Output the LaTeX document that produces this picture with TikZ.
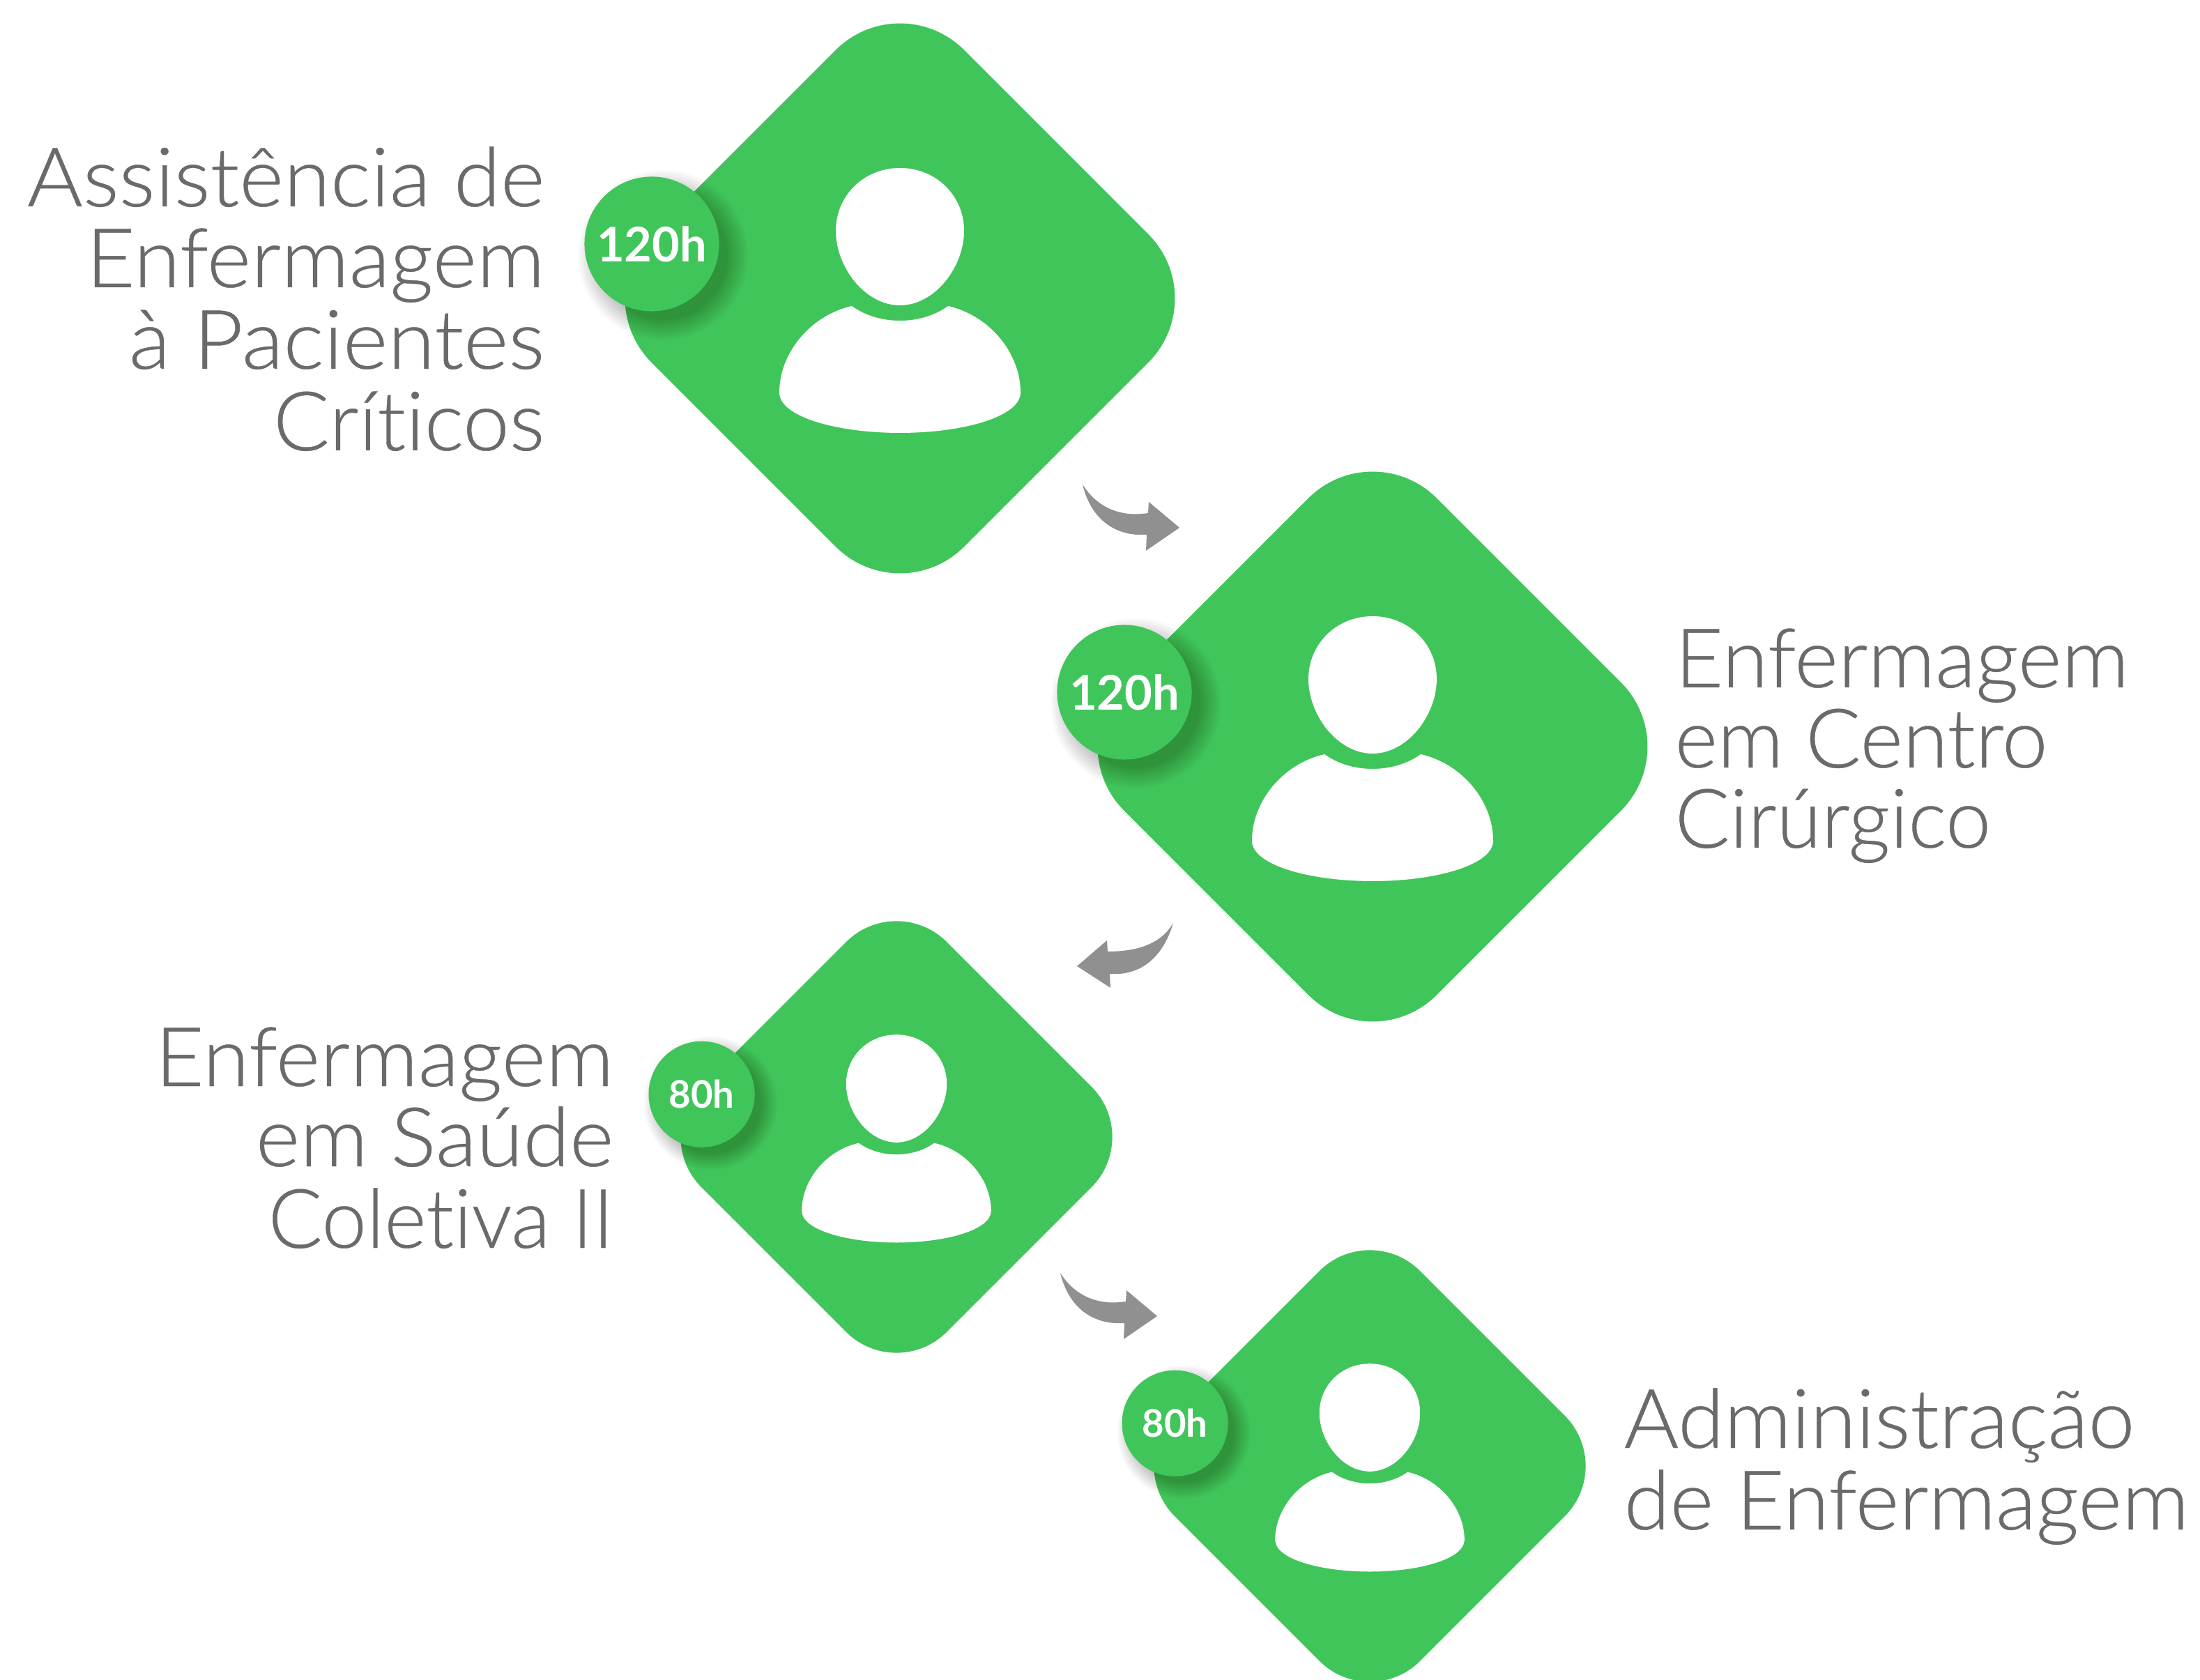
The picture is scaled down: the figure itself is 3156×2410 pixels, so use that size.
\documentclass[tikz,border=0pt]{standalone}
\usepackage{fontspec}
\setmainfont{Lato}[UprightFont=* Light,Ligatures=NoCommon,FakeStretch=1.03,FakeBold=0.35]
\newfontfamily\badgefont{Lato}[UprightFont=* Bold,Ligatures=NoCommon]
\usetikzlibrary{calc}
\definecolor{cardgreen}{HTML}{40C55A}
\definecolor{arrowgray}{HTML}{909090}
\definecolor{labelgray}{HTML}{6A6A6A}
\tikzset{
  cardface/.style={fill=cardgreen},
  personface/.style={fill=white},
  badgebase/.style={circle,fill=cardgreen,text=white,inner sep=0pt},
  badgelarge/.style={badgebase,font=\badgefont\fontsize{19.5}{20}\selectfont},
  badgesmall/.style={badgebase,font=\badgefont\fontsize{15.5}{16}\selectfont},
  labelline/.style={text=labelgray,inner sep=0pt,font=\fontsize{33.5}{33.5}\selectfont},
  flowarrow/.style={fill=arrowgray},
}
% #1 name, #2 cx, #3 cy, #4 scale, #5 badge style, #6 badge text, #7 badge radius (px)
\newcommand{\personcard}[7]{%
  \coordinate (#1) at (#2,#3);
  \begin{scope}[shift={(#1)},scale=#4]
    \begin{scope}[rotate=45]
      \pgfmathsetmacro{\cornerr}{#4*1.3}
      \fill[cardface,rounded corners=\cornerr cm] (-317,-317) rectangle (317,317);
    \end{scope}
    \fill[personface] (0,-187) .. controls (-52,-187) and (-92,-147) .. (-92,-97)
      .. controls (-92,-45) and (-50,10) .. (0,10)
      .. controls (50,10) and (92,-45) .. (92,-97)
      .. controls (92,-147) and (52,-187) .. cycle;
    \fill[personface] (-69,11) .. controls (-130,25) and (-173,80) .. (-173,135)
      .. controls (-173,170) and (-90,193) .. (0,193)
      .. controls (90,193) and (173,170) .. (173,135)
      .. controls (173,80) and (130,25) .. (69,11)
      .. controls (50,25) and (25,32) .. (0,32)
      .. controls (-25,32) and (-50,25) .. cycle;
    \foreach \g in {0,2,...,30}{
      \fill[black,opacity=0.014] (-356+16,-78+16) circle[radius={(96+\g-4)}];
    }
  \end{scope}
  \node[#5,minimum size=#7*0.02cm] (#1badge) at ($(#1)+(-356*#4,-78*#4)$) {#6};
}
\begin{document}
\begin{tikzpicture}[x=0.01cm,y=-0.01cm]
\useasboundingbox (0,0) rectangle (3156,2410);
\fill[white] (0,0) rectangle (3156,2410);

\personcard{cardA}{1291}{428}{1}{badgelarge}{120h}{96.5}
\personcard{cardB}{1969}{1071}{1}{badgelarge}{120h}{96.5}
\personcard{cardC}{1286}{1631}{0.785}{badgesmall}{80h}{76}
\personcard{cardD}{1965}{2103}{0.785}{badgesmall}{80h}{76}

% flow arrows
\fill[flowarrow] (1553,695) .. controls (1565,745) and (1600,770) .. (1645,767)
  -- (1644,790) -- (1692,757) -- (1648,720) -- (1647,736)
  .. controls (1610,742) and (1575,730) .. cycle;
\fill[flowarrow] (1683,1324) .. controls (1668,1375) and (1635,1400) .. (1592,1397)
  -- (1593,1417) -- (1545,1386) -- (1588,1349) -- (1589,1365)
  .. controls (1630,1365) and (1665,1355) .. cycle;
\begin{scope}[shift={(-32,1131)}]
\fill[flowarrow] (1553,695) .. controls (1565,745) and (1600,770) .. (1645,767)
  -- (1644,790) -- (1692,757) -- (1648,720) -- (1647,736)
  .. controls (1610,742) and (1575,730) .. cycle;
\end{scope}

% labels
\node[labelline,anchor=base east] (a1) at (782,296) {\scalebox{1.005}[1]{Assistência de}};
\node[labelline,anchor=base east] (a2) at (782,412) {Enfermagem};
\node[labelline,anchor=base east] (a3) at (782,529) {\scalebox{1.014}[1]{à Pacientes}};
\node[labelline,anchor=base east] (a4) at (782,646) {\scalebox{0.985}[1]{Críticos}};

\node[labelline,anchor=base west] (b1) at (2402,986) {\scalebox{0.99}[1]{Enfermagem}};
\node[labelline,anchor=base west] (b2) at (2402,1101) {\scalebox{0.967}[1]{em Centro}};
\node[labelline,anchor=base west] (b3) at (2402,1216) {\scalebox{0.96}[1]{Cirúrgico}};

\node[labelline,anchor=base east] (c1) at (881,1558) {Enfermagem};
\node[labelline,anchor=base east] (c2) at (881,1673) {em Saúde};
\node[labelline,anchor=base east] (c3) at (881,1790) {\scalebox{0.95}[1]{Coletiva II}};

\node[labelline,anchor=base west] (d1) at (2329,2077) {\scalebox{0.989}[1]{Administração}};
\node[labelline,anchor=base west] (d2) at (2329,2194) {\scalebox{0.987}[1]{de Enfermagem}};
\end{tikzpicture}
\end{document}
